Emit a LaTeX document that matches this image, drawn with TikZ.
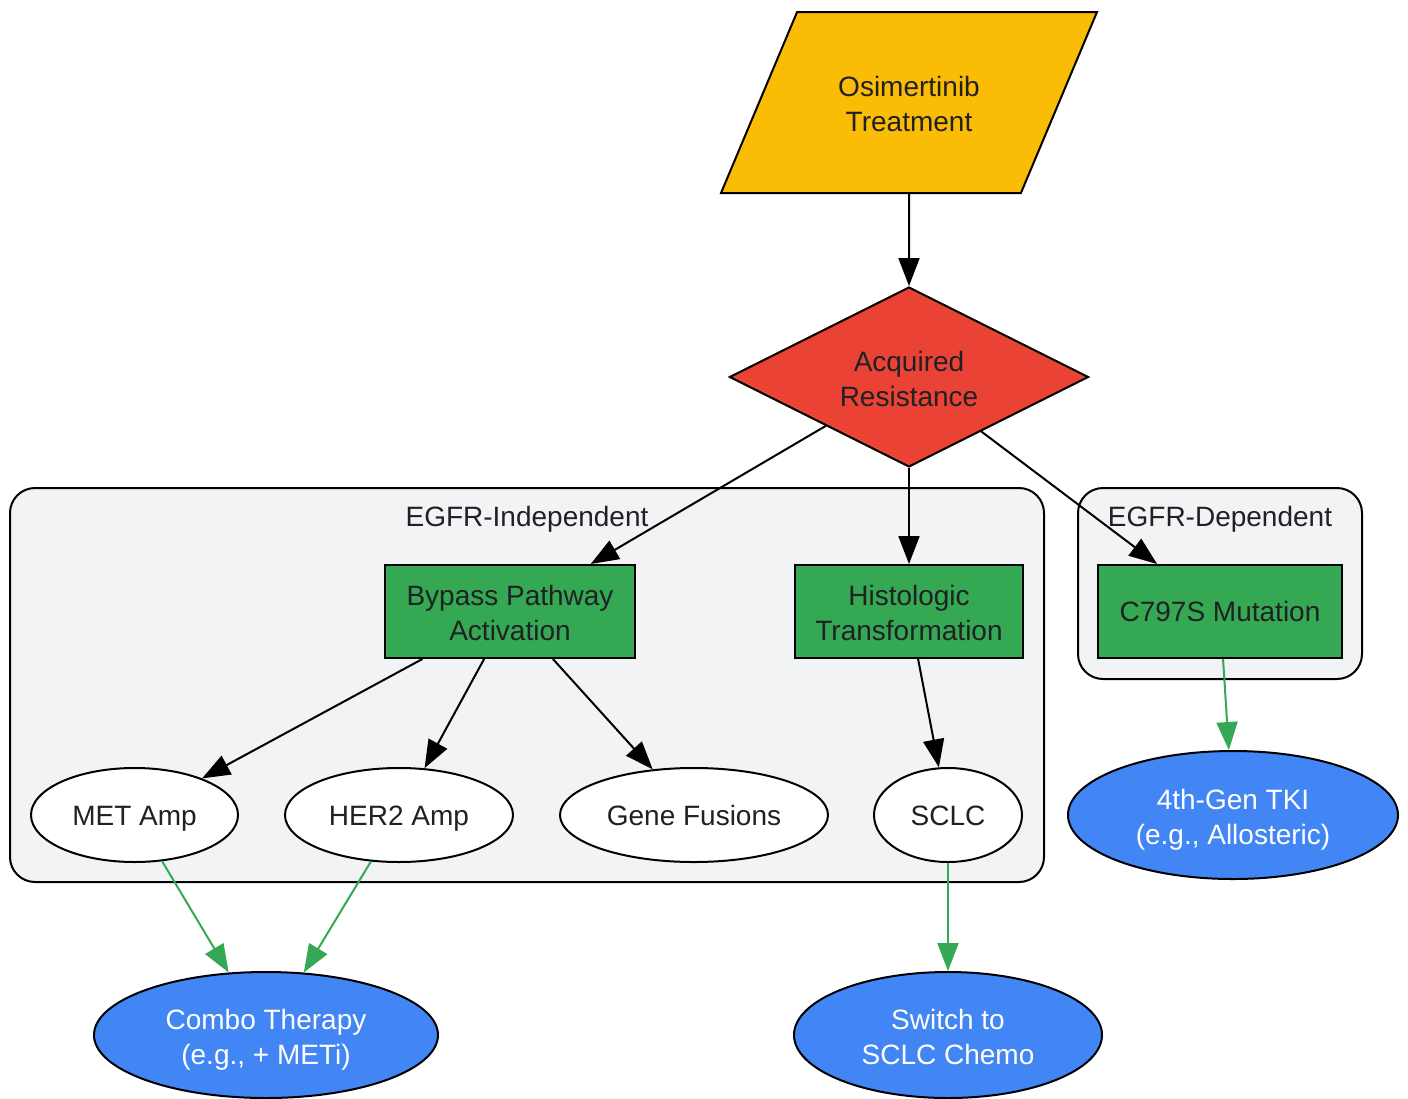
\documentclass[tikz,border=0pt]{standalone}
\usepackage{fontspec}
\setmainfont{Liberation Sans}
\usetikzlibrary{shapes.geometric,arrows.meta}
\definecolor{gyellow}{HTML}{FBBC05}
\definecolor{gred}{HTML}{EA4335}
\definecolor{ggreen}{HTML}{34A853}
\definecolor{gblue}{HTML}{4285F4}
\definecolor{ggrey}{HTML}{F1F3F4}
\definecolor{gtext}{HTML}{202124}
\begin{document}
\begin{tikzpicture}[x=0.5pt,y=-0.5pt,
    font=\fontsize{14pt}{17.5pt}\selectfont, text=gtext, line width=1pt,
    every node/.style={align=center, inner sep=2pt,
        execute at begin node={\rule{0pt}{13pt}},
        execute at end node={\rule[-3pt]{0pt}{3pt}}},
    twoline/.style={execute at begin node={\rule{0pt}{32pt}}},
    cluster/.style={draw, fill=ggrey, rounded corners=12.5pt},
    box/.style={draw, fill=ggreen, rectangle, minimum height=46.5pt},
    oval/.style={draw, fill=white, ellipse, minimum height=47pt},
    outcome/.style={draw, fill=gblue, ellipse, text=white, minimum height=63pt, twoline},
    link/.style={-{Triangle[length=14pt,width=10.5pt]}},
    therapy/.style={link, draw=ggreen, fill=ggreen}]
    \useasboundingbox (0,0) rectangle (1408,1098);

    % clusters
    \draw[cluster] (10,488) rectangle (1044,882);
    \draw[cluster] (1078,488) rectangle (1362,679);
    \node (indep) at (527,516) {EGFR-Independent};
    \node (dep) at (1220,516) {EGFR-Dependent};

    \node[draw, fill=gyellow, trapezium, trapezium left angle=67.2, trapezium right angle=112.8,
          trapezium stretches body, inner ysep=27.75pt, minimum width=188pt, minimum height=90.5pt, twoline]
          (osim) at (909,102.5) {Osimertinib\\Treatment};
    \node[draw, fill=gred, diamond, aspect=2, minimum width=179.5pt, minimum height=90pt, twoline]
          (res) at (909,377) {Acquired\\Resistance};

    \node[box, minimum width=125pt, twoline] (bypass) at (510,611.5) {Bypass Pathway\\Activation};
    \node[box, minimum width=114pt, twoline] (histo) at (909,611.5) {Histologic\\Transformation};
    \node[box, minimum width=122pt] (c797) at (1220,611.5) {C797S Mutation};

    \node[oval, minimum width=103.5pt] (met) at (134.5,815) {MET Amp};
    \node[oval, minimum width=114pt] (her2) at (399,815) {HER2 Amp};
    \node[oval, minimum width=134pt] (fus) at (694,815) {Gene Fusions};
    \node[oval, minimum width=74pt] (sclc) at (948,815) {SCLC};

    \node[outcome, minimum width=165pt, minimum height=64pt] (tki) at (1233,815) {4th-Gen TKI\\(e.g., Allosteric)};
    \node[outcome, minimum width=172pt] (combo) at (266,1035) {Combo Therapy\\(e.g., + METi)};
    \node[outcome, minimum width=154pt] (chemo) at (948,1035) {Switch to\\SCLC Chemo};

    \draw[link] (osim) -- (res);
    \draw[link] (res) -- (bypass);
    \draw[link] (res) -- (histo);
    \draw[link] (res) -- (c797);
    \draw[link] (bypass) -- (met);
    \draw[link] (bypass) -- (her2);
    \draw[link] (bypass) -- (fus);
    \draw[link] (histo) -- (sclc);

    \draw[therapy] (c797) -- (tki);
    \draw[therapy] (met) -- (combo);
    \draw[therapy] (her2) -- (combo);
    \draw[therapy] (sclc) -- (chemo);
\end{tikzpicture}
\end{document}
